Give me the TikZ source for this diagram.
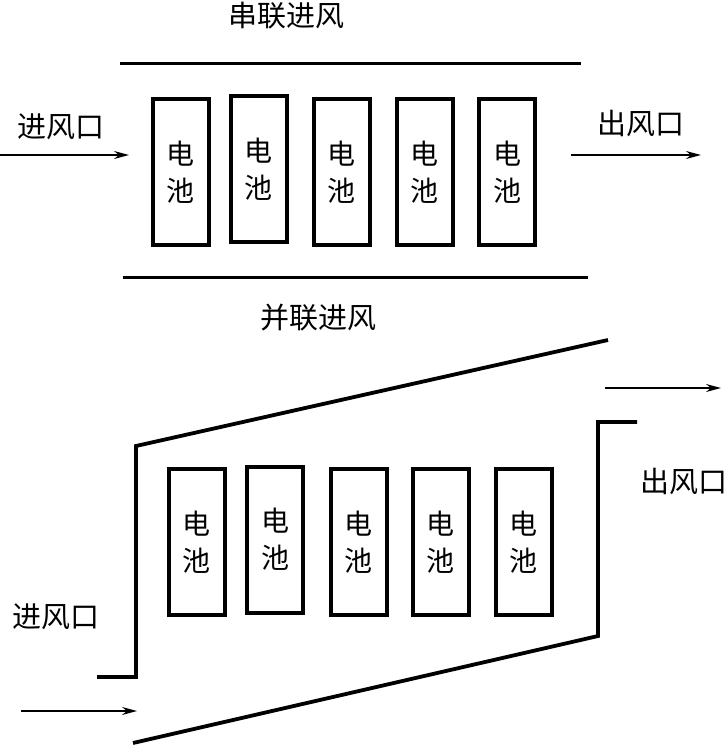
\documentclass[tikz,border=0pt]{standalone}
\usepackage{fontspec}
\setmainfont{Noto Sans CJK SC}
\usetikzlibrary{arrows.meta}
\begin{document}
\begin{tikzpicture}[x=1pt,y=-1pt,
  bat/.style={draw,line width=4pt,minimum width=56pt,minimum height=146pt,inner sep=0pt,align=center,
    font=\fontsize{28pt}{37pt}\selectfont},
  lbl/.style={font=\fontsize{29pt}{32pt}\selectfont,inner sep=0pt},
  wall/.style={line width=3.8pt,line cap=butt,line join=miter},
  flow/.style={line width=1.3pt,-{Stealth[length=15pt,width=8pt,inset=5pt]}}]
\useasboundingbox (0,0) rectangle (727,746);
% ---------- top: series ----------
\node[lbl] (t1title) at (286,16) {串联进风};
\draw[line width=3pt] (120,64) -- (581,64);
\draw[line width=3pt] (123,277) -- (588,277);
\node[lbl] (t2title) at (318,318) {并联进风};
\node[bat] (a1) at (180.5,172) {电\\池};
\node[bat] (a2) at (258.5,169) {电\\池};
\node[bat] (a3) at (341.5,172) {电\\池};
\node[bat] (a4) at (424.5,172) {电\\池};
\node[bat] (a5) at (507,172) {电\\池};
\node[lbl] (ain) at (61,127) {进风口};
\node[lbl] (aout) at (641,124) {出风口};
\coordinate (ainS) at (0,155);
\coordinate (ainE) at (129,155);
\coordinate (aoutS) at (571,155);
\coordinate (aoutE) at (701,155);
\draw[flow] (ainS) -- (ainE);
\draw[flow] (aoutS) -- (aoutE);
% ---------- bottom: parallel ----------
\draw[wall] (608,340) -- (136,446) -- (136,677) -- (97,677);
\draw[wall] (133,743) -- (598,636) -- (598,422) -- (637,422);
\node[bat] (b1) at (196.5,542) {电\\池};
\node[bat] (b2) at (275,539.5) {电\\池};
\node[bat] (b3) at (358.5,542) {电\\池};
\node[bat] (b4) at (440.5,542) {电\\池};
\node[bat] (b5) at (523.5,542) {电\\池};
\node[lbl] (bin) at (56,617) {进风口};
\node[lbl] (bout) at (684,482) {出风口};
\coordinate (binS) at (21,711);
\coordinate (binE) at (137,711);
\coordinate (boutS) at (605,388);
\coordinate (boutE) at (721,388);
\draw[flow] (binS) -- (binE);
\draw[flow] (boutS) -- (boutE);
\end{tikzpicture}
\end{document}
